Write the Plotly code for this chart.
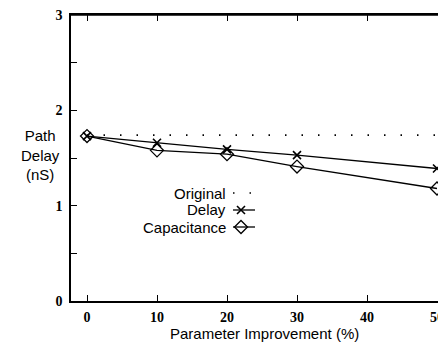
import plotly.graph_objects as go

x_vals = [0, 10, 20, 30, 50]
original = [1.74, 1.74, 1.74, 1.74, 1.74]
delay = [1.73, 1.66, 1.59, 1.53, 1.39]
capacitance = [1.73, 1.58, 1.54, 1.41, 1.18]
x_ticks = [0, 10, 20, 30, 40, 50]
y_ticks = [0, 0.5, 1, 1.5, 2, 2.5, 3]
y_ticktext = ["0", "", "1", "", "2", "", "3"]
legend_names = ["Original", "Delay", "Capacitance"]

# page body has an 8px margin; the visible page ends at window x = 438
OFF = 8
W, H = 438 - OFF, 342 - OFF
L, T = 71 - OFF, 15 - OFF
R = 0
B = H - (301 - OFF)
PW, PH = W - L - R, H - T - B
PX_PER_UNIT = 7.0  # x=0 at window 87, x=50 at window 437
XR = [(71 - 87) / PX_PER_UNIT, (438 - 87) / PX_PER_UNIT]
YR = [0, 3]


def px(x):  # window pixel -> paper x
    return (x - OFF - L) / PW


def py(y):  # window pixel -> paper y
    return 1 - (y - OFF - T) / PH


def dx(x):  # window pixel -> data x
    return XR[0] + px(x) * (XR[1] - XR[0])


def dy(y):  # window pixel -> data y
    return YR[0] + py(y) * (YR[1] - YR[0])


tick_font = dict(family="Liberation Serif", size=14, color="black", weight="bold")
sans = "Liberation Sans"
dot_dash = "1.5px,15px"
FS = 15

fig = go.Figure()
fig.add_trace(go.Scatter(x=x_vals, y=original, mode="lines", cliponaxis=False,
                         line=dict(color="black", width=1.6, dash=dot_dash)))
fig.add_trace(go.Scatter(x=x_vals, y=delay, mode="lines+markers", cliponaxis=False,
                         line=dict(color="black", width=1.3),
                         marker=dict(symbol="x-thin-open", size=8, color="black",
                                     line=dict(width=1.6, color="black"))))
fig.add_trace(go.Scatter(x=x_vals, y=capacitance, mode="lines+markers", cliponaxis=False,
                         line=dict(color="black", width=1.3),
                         marker=dict(symbol="diamond-open", size=10, color="black",
                                     line=dict(width=1.3, color="black"))))

# custom legend (text left, sample right)
leg_y = [193, 210, 227]
sx0, sxm, sx1 = dx(233), dx(241), dx(255)
fig.add_trace(go.Scatter(x=[sx0, sx1], y=[dy(leg_y[0])] * 2, mode="lines",
                         line=dict(color="black", width=1.6, dash=dot_dash)))
for yy in leg_y[1:]:
    fig.add_trace(go.Scatter(x=[sx0, sx1], y=[dy(yy)] * 2, mode="lines",
                             line=dict(color="black", width=1.3)))
fig.add_trace(go.Scatter(x=[sxm], y=[dy(leg_y[1])], mode="markers",
                         marker=dict(symbol="x-thin-open", size=8, color="black",
                                     line=dict(width=1.6, color="black"))))
fig.add_trace(go.Scatter(x=[sxm], y=[dy(leg_y[2])], mode="markers",
                         marker=dict(symbol="diamond-open", size=10, color="black",
                                     line=dict(width=1.3, color="black"))))

annotations = []
for name, yy in zip(legend_names, leg_y):
    annotations.append(dict(x=px(228), y=py(yy), xref="paper", yref="paper", text=name,
                            showarrow=False, xanchor="right", yanchor="middle",
                            font=dict(family=sans, size=FS, color="black")))
annotations.append(dict(x=px(40), y=py(155), xref="paper", yref="paper",
                        text="Path<br>Delay<br>(nS)", showarrow=False,
                        xanchor="center", yanchor="middle", align="center",
                        font=dict(family=sans, size=FS, color="black")))
annotations.append(dict(x=px(264), y=py(333), xref="paper", yref="paper",
                        text="Parameter Improvement (%)", showarrow=False,
                        xanchor="center", yanchor="middle",
                        font=dict(family=sans, size=FS, color="black")))

common_ticks = dict(ticks="inside", ticklen=6, tickwidth=1.3, tickcolor="black",
                    showgrid=False, zeroline=False, automargin=False)
fig.update_layout(
    width=W, height=H,
    margin=dict(l=L, r=R, t=T, b=B, autoexpand=False),
    paper_bgcolor="white", plot_bgcolor="white",
    showlegend=False,
    annotations=annotations,
    shapes=[dict(type="line", xref="paper", yref="paper", x0=0, x1=1, y0=1, y1=1,
                 line=dict(color="black", width=1.5))],
    xaxis=dict(range=XR, tickvals=x_ticks, showline=True, linecolor="black",
               linewidth=1.5, mirror="ticks", tickfont=tick_font,
               ticklabelstandoff=2, ticklabeloverflow="allow", **common_ticks),
    yaxis=dict(range=YR, tickvals=y_ticks, ticktext=y_ticktext, showline=True,
               linecolor="black", linewidth=1.5, tickfont=tick_font,
               ticklabelstandoff=4, ticklabeloverflow="allow", **common_ticks),
)
fig.write_html("out.html")
